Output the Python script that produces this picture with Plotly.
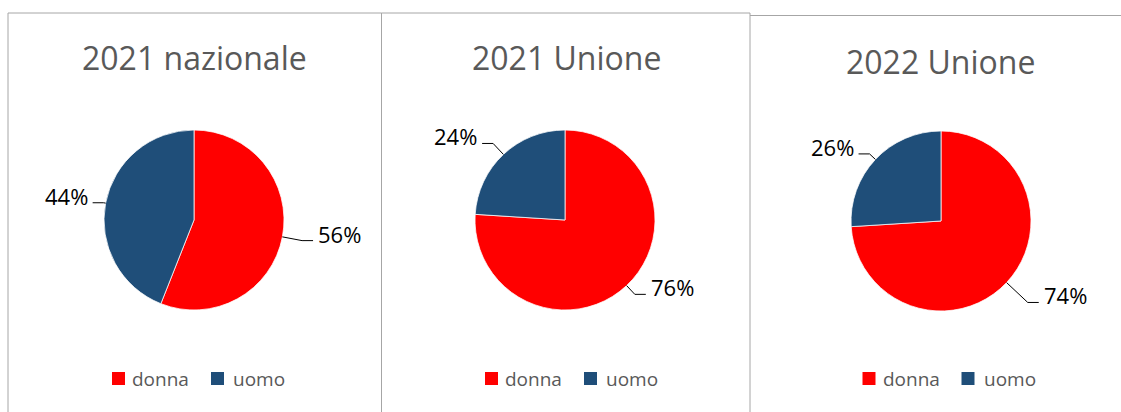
import math
import plotly.graph_objects as go

# ---- data ----
panel_titles = ["2021 nazionale", "2021 Unione", "2022 Unione"]
categories = ["donna", "uomo"]
values_2021_nazionale = [56, 44]
values_2021_unione = [76, 24]
values_2022_unione = [74, 26]
series = [values_2021_nazionale, values_2021_unione, values_2022_unione]

# ---- style / layout ----
W, H = 1121, 412
colors = ["#FF0000", "#1F4E79"]
font_family = "Open Sans, Noto Sans, DejaVu Sans, sans-serif"
centers = [(194, 220), (565, 220), (941, 221)]  # pie centres in px
radius = 90
title_pos = [(194, 57), (566, 57), (941, 61)]
legend_x = [199.5, 572.5, 950]
legend_y = 378.5
legend_offsets = [(-87.5, -69.5), (11.5, 31.5)]  # (square left, text left) per item
label_gap = [(20, 2), (12, 15), (29, 8)]  # leader length per slice (px)
border_color = "#A6A6A6"


def px(x):
    return x / W


def py(y):
    return 1 - y / H


fig = go.Figure()

shapes = []
annotations = []

for i, vals in enumerate(series):
    cx, cy = centers[i]
    fig.add_trace(go.Pie(
        labels=categories,
        values=vals,
        name=panel_titles[i],
        sort=False,
        direction="clockwise",
        rotation=0,
        marker=dict(colors=colors, line=dict(color="#FFFFFF", width=0.75)),
        textinfo="none",
        textposition="none",
        hoverinfo="label+percent",
        domain=dict(x=[px(cx - radius), px(cx + radius)],
                    y=[py(cy + radius), py(cy - radius)]),
        showlegend=False,
    ))
    # title
    tx, ty = title_pos[i]
    annotations.append(dict(
        x=px(tx), y=py(ty), xref="paper", yref="paper",
        text=panel_titles[i], showarrow=False,
        xanchor="center", yanchor="middle",
        font=dict(family=font_family, size=32, color="#595959"),
    ))
    # data labels with leader lines, placed from slice angles
    total = sum(vals)
    start = 0.0
    for j, v in enumerate(vals):
        frac = v / total
        mid = (start + frac / 2) * 2 * math.pi
        start += frac
        dx, dy = math.sin(mid), -math.cos(mid)
        ex, ey = cx + radius * dx, cy + radius * dy
        d = label_gap[i][j]
        bx, by = cx + (radius + d) * dx, cy + (radius + d) * dy
        side = 1 if dx >= 0 else -1
        hx = bx + side * 11
        shapes.append(dict(
            type="path", xref="paper", yref="paper",
            path=f"M {px(ex)},{py(ey)} L {px(bx)},{py(by)} L {px(hx)},{py(by)}",
            line=dict(color="#000000", width=1),
        ))
        annotations.append(dict(
            x=px(hx + side * 3), y=py(by - 7), xref="paper", yref="paper",
            text=f"{round(frac * 100)}%", showarrow=False,
            xanchor="left" if side > 0 else "right", yanchor="middle",
            font=dict(family=font_family, size=22, color="#000000"),
        ))
    # legend for this panel
    lx = legend_x[i]
    for k, cat in enumerate(categories):
        sq, txt = legend_offsets[k]
        shapes.append(dict(
            type="rect", xref="paper", yref="paper",
            x0=px(lx + sq), x1=px(lx + sq + 13),
            y0=py(legend_y - 6.5), y1=py(legend_y + 6.5),
            fillcolor=colors[k], line=dict(width=0),
        ))
        annotations.append(dict(
            x=px(lx + txt), y=py(legend_y), xref="paper", yref="paper",
            text=cat, showarrow=False, xanchor="left", yanchor="middle",
            font=dict(family=font_family, size=19, color="#595959"),
        ))

# panel borders
border_paths = [
    (8, 13, 8, 420),
    (8, 13, 381.5, 13),
    (381.5, 13, 381.5, 420),
    (381.5, 13, 750, 13),
    (750, 13, 750, 420),
    (750, 15.5, 1130, 15.5),
]
for x0, y0, x1, y1 in border_paths:
    shapes.append(dict(type="line", xref="paper", yref="paper",
                       x0=px(x0), y0=py(y0), x1=px(x1), y1=py(y1),
                       line=dict(color=border_color, width=1)))

fig.update_layout(
    width=W, height=H,
    margin=dict(l=0, r=0, t=0, b=0),
    paper_bgcolor="#FFFFFF",
    plot_bgcolor="#FFFFFF",
    shapes=shapes,
    annotations=annotations,
    showlegend=False,
)

fig.write_html("out.html",
               config={"displayModeBar": False},
               post_script="document.body.style.margin='0px';document.body.style.overflow='hidden';")
